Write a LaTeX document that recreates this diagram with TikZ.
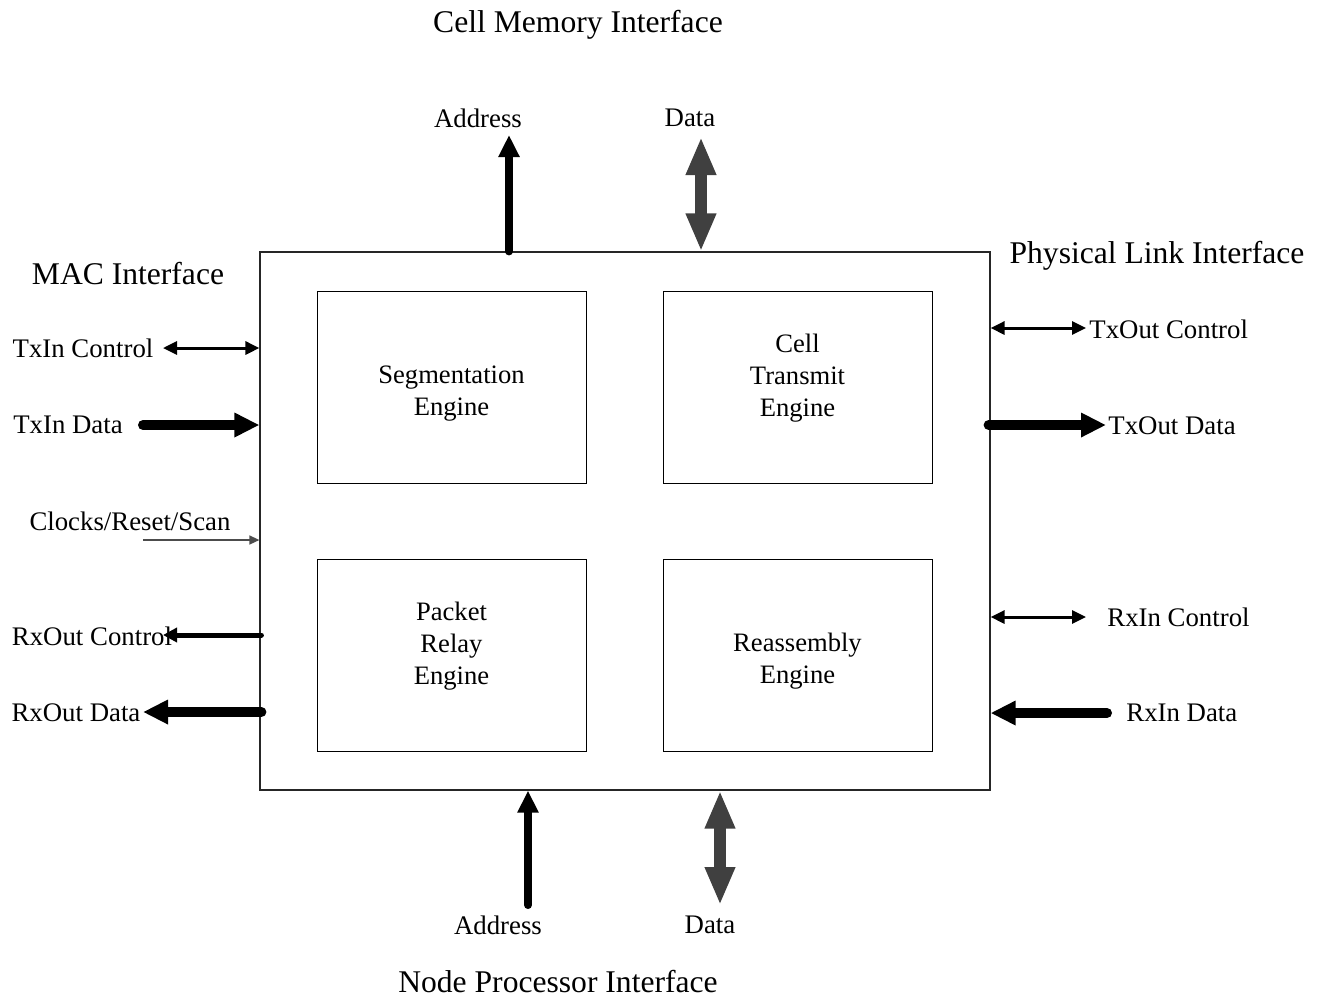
\documentclass[tikz,border=0pt]{standalone}
\usepackage{fontspec}
\setmainfont{Liberation Serif}
\usetikzlibrary{arrows.meta}

\definecolor{busgray}{HTML}{404040}

\tikzset{
  lbl/.style={inner sep=0pt, font=\fontsize{13.4}{15}\selectfont},
  hdr/.style={inner sep=0pt, font=\fontsize{15.8}{18}\selectfont},
  engine/.style={draw, line width=0.5pt, minimum width=134.5pt, minimum height=96pt,
                 inner sep=0pt},
  enginetext/.style={inner sep=0pt, align=center, font=\fontsize{13.3}{16}\selectfont},
  chipbox/.style={draw=black!85, line width=0.6pt, minimum width=365pt,
                  minimum height=269pt, inner sep=0pt},
  ctlbi/.style={line width=1.5pt, {Triangle[length=7pt,width=6.5pt]}-{Triangle[length=7pt,width=6.5pt]}},
  ctlone/.style={line width=2.5pt, line cap=round, -{Triangle[length=7pt,width=7pt]}},
  dataone/.style={line width=5pt, line cap=round, -{Triangle[length=12.5pt,width=11.5pt]}},
  addrbus/.style={line width=4pt, line cap=round, -{Triangle[length=11pt,width=10pt]}},
  databus/.style={draw=busgray, line width=6pt,
                  {Triangle[length=19pt,width=14pt]}-{Triangle[length=19pt,width=14pt]}},
  clk/.style={draw=black!70, line width=0.75pt, -{Triangle[length=5pt,width=4.5pt]}}
}

\begin{document}
\begin{tikzpicture}[x=0.5pt,y=-0.5pt]
\useasboundingbox (0,0) rectangle (1321,998);

% chip outline and the four engines
\node[chipbox] (chip) at (625,521) {};
\node[engine] (seg)  at (451.5,387)  {};
\node[engine] (cte)  at (797.5,387)  {};
\node[engine] (pre)  at (451.5,655.5) {};
\node[engine] (rea)  at (797.5,655.5) {};
\node[enginetext] (segT) at ([yshift=-3.5pt]seg.center) {Segmentation\\Engine};
\node[enginetext] (cteT) at ([yshift=4.5pt]cte.center)  {Cell\\Transmit\\Engine};
\node[enginetext] (preT) at ([yshift=4.5pt]pre.center)  {Packet\\Relay\\Engine};
\node[enginetext] (reaT) at ([yshift=-3pt]rea.center)   {Reassembly\\Engine};

% interface headings
\node[hdr] (cmi) at (578,25)   {Cell Memory Interface};
\node[hdr] (npi) at (558,982)  {Node Processor Interface};
\node[hdr] (mac) at (128,274)  {MAC Interface};
\node[hdr] (phy) at (1157,256) {Physical Link Interface};

% cell memory interface
\node[lbl] (cmAddrL) at (478,118) {Address};
\node[lbl] (cmDataL) at (690,118) {Data};
\coordinate (cmAddr) at (509,135);
\coordinate (cmData) at (701,137);
\draw[addrbus] (chip.north -| cmAddr) -- (cmAddr);
\draw[databus] (chip.north -| cmData) -- (cmData);

% node processor interface
\node[lbl] (npAddrL) at (498,925) {Address};
\node[lbl] (npDataL) at (710,925) {Data};
\coordinate (npAddr) at (528,905);
\coordinate (npData) at (720,905);
\draw[addrbus] (npAddr) -- (chip.south -| npAddr);
\draw[databus] (chip.south -| npData) -- (npData);

% MAC interface
\node[lbl] (txinC) at (83,348)  {TxIn Control};
\node[lbl] (txinD) at (68,425)  {TxIn Data};
\node[lbl] (crs)   at (130,521) {Clocks/Reset/Scan};
\node[lbl] (rxoC)  at (92,636)  {RxOut Control};
\node[lbl] (rxoD)  at (76,713)  {RxOut Data};
\coordinate (txinCe) at (163,348);
\coordinate (txinDe) at (143,425);
\coordinate (crsE)   at (143,540);
\coordinate (rxoCe)  at (163,635);
\coordinate (rxoDe)  at (143,712);
\draw[ctlbi]   (txinCe) -- (chip.west |- txinCe);
\draw[dataone] (txinDe) -- (chip.west |- txinDe);
\draw[clk]     (crsE) -- (chip.west |- crsE);
\draw[ctlone]  ([xshift=1pt]chip.west |- rxoCe) -- (rxoCe);
\draw[dataone] ([xshift=1pt]chip.west |- rxoDe) -- (rxoDe);

% physical link interface
\node[lbl, anchor=west] (txoC) at (1089,329) {TxOut Control};
\node[lbl, anchor=west] (txoD) at (1108,426) {TxOut Data};
\node[lbl, anchor=west] (rxiC) at (1107,617) {RxIn Control};
\node[lbl, anchor=west] (rxiD) at (1126,713) {RxIn Data};
\coordinate (txoCe) at (1086,328);
\coordinate (txoDe) at (1106,425);
\coordinate (rxiCe) at (1086,617);
\coordinate (rxiDe) at (1107,713);
\draw[ctlbi]   (chip.east |- txoCe) -- (txoCe);
\draw[dataone] ([xshift=-1pt]chip.east |- txoDe) -- (txoDe);
\draw[ctlbi]   (chip.east |- rxiCe) -- (rxiCe);
\draw[dataone] (rxiDe) -- (chip.east |- rxiDe);
\end{tikzpicture}
\end{document}
